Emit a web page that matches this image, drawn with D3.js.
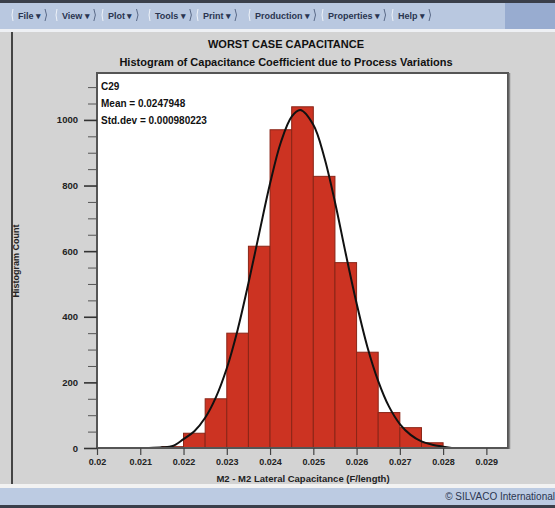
<!DOCTYPE html>
<html><head><meta charset="utf-8">
<script src="https://cdn.jsdelivr.net/npm/d3@7"></script>
<style>
html,body{margin:0;padding:0;background:#d3d3d3;}
svg{display:block;font-family:"Liberation Sans",Arial,sans-serif;}
</style></head>
<body>
<svg id="chart" width="555" height="508"></svg>
<script>
// ---- data ----
const menuItems = ["File", "View", "Plot", "Tools", "Print", "Production", "Properties", "Help"];
const binStarts = [0.0215, 0.022, 0.0225, 0.023, 0.0235, 0.024, 0.0245, 0.025, 0.0255, 0.026, 0.0265, 0.027, 0.0275];
const binCounts = [4, 45, 150, 350, 615, 970, 1040, 828, 565, 292, 108, 62, 16];
const binWidth = 0.0005;
const curveX = [0.0212, 0.0215, 0.02175, 0.022, 0.02225, 0.0225, 0.02275, 0.023, 0.02325, 0.0235, 0.02375, 0.024, 0.02425, 0.0245, 0.0247, 0.025, 0.02525, 0.0255, 0.02575, 0.026, 0.02625, 0.0265, 0.02675, 0.027, 0.02725, 0.0275, 0.02775, 0.028, 0.0282];
const curveY = [0, 2, 6, 27, 51, 92, 155, 243, 360, 502, 655, 806, 932, 1010, 1030, 985, 888, 750, 592, 441, 308, 204, 126, 73, 40, 20, 10, 4, 0];
const xTicks = [0.02, 0.021, 0.022, 0.023, 0.024, 0.025, 0.026, 0.027, 0.028, 0.029];
const xTickLabels = ["0.02", "0.021", "0.022", "0.023", "0.024", "0.025", "0.026", "0.027", "0.028", "0.029"];
const yTicks = [0, 200, 400, 600, 800, 1000];
const yMinorTicks = [50, 100, 150, 250, 300, 350, 450, 500, 550, 650, 700, 750, 850, 900, 950, 1050, 1100];
const statsLines = ["C29", "Mean = 0.0247948", "Std.dev = 0.000980223"];
const title = "WORST CASE CAPACITANCE";
const subtitle = "Histogram of Capacitance Coefficient due to Process Variations";
const xTitle = "M2 - M2 Lateral Capacitance (F/length)";
const yTitle = "Histogram Count";
const footer = "© SILVACO International";

const svg = d3.select("#chart");

// ---- window chrome ----
svg.append("rect").attr("x",0).attr("y",0).attr("width",555).attr("height",508).attr("fill","#d3d3d3");
svg.append("rect").attr("x",0).attr("y",0).attr("width",555).attr("height",30).attr("fill","#b9c8e0");
svg.append("rect").attr("x",0).attr("y",0).attr("width",555).attr("height",3).attr("fill","#3a3f4a");
svg.append("rect").attr("x",505).attr("y",3).attr("width",50).attr("height",27).attr("fill","#98acd0");
svg.append("rect").attr("x",0).attr("y",29).attr("width",555).attr("height",3).attr("fill","#eef0f4");
const menuX = [18, 62, 108, 155, 203, 255, 328, 398];
const mg = svg.append("g").attr("font-size",9).attr("font-weight","bold").attr("fill","#2a3550");
menuItems.forEach((m,i)=>{
  const t = mg.append("text").attr("x",menuX[i]).attr("y",18.5).text(m + " ▾");
  const w = t.node().getComputedTextLength();
  mg.append("path").attr("d",`M${menuX[i]+w+4},9 q3,6 0,12`).attr("fill","none").attr("stroke","#5a6a88").attr("stroke-width",1);
  mg.append("path").attr("d",`M${menuX[i]-5},9 q-2,6 0,12`).attr("fill","none").attr("stroke","#eef2f8").attr("stroke-width",1);
});
svg.append("rect").attr("x",11).attr("y",32).attr("width",2).attr("height",452).attr("fill","#444");
svg.append("rect").attr("x",0).attr("y",484).attr("width",555).attr("height",4).attr("fill","#f2f2f2");
svg.append("rect").attr("x",0).attr("y",488).attr("width",555).attr("height",17).attr("fill","#bccbe2");
svg.append("rect").attr("x",0).attr("y",505).attr("width",555).attr("height",3).attr("fill","#3a3f4a");
svg.append("text").attr("x",555).attr("y",500).attr("text-anchor","end").attr("font-size",10).attr("fill","#2a3550").text(footer);

// ---- titles ----
svg.append("text").attr("x",286).attr("y",48).attr("text-anchor","middle").attr("font-size",11).attr("font-weight","bold").attr("fill","#111").text(title);
svg.append("text").attr("x",286).attr("y",66).attr("text-anchor","middle").attr("font-size",11).attr("font-weight","bold").attr("fill","#111").text(subtitle);

// ---- plot ----
const L = 97, R = 508, T = 73, B = 448;
const x = d3.scaleLinear().domain([0.02, 0.0295]).range([L, R]);
const y = d3.scaleLinear().domain([0, 1143]).range([B, T]);

svg.append("rect").attr("x",L).attr("y",T).attr("width",R-L).attr("height",B-T).attr("fill","#fff");

svg.append("g").selectAll("rect").data(binStarts).join("rect")
  .attr("x", d=>x(d))
  .attr("width", d=>x(d+binWidth)-x(d))
  .attr("y", (d,i)=>y(binCounts[i]))
  .attr("height", (d,i)=>y(0)-y(binCounts[i]))
  .attr("fill","#cc3322")
  .attr("stroke","#8a2517")
  .attr("stroke-width",1);

const pts = curveX.map((v,i)=>[v, curveY[i]]);
svg.append("path").datum(pts)
  .attr("d", d3.line().x(d=>x(d[0])).y(d=>y(d[1])).curve(d3.curveCatmullRom))
  .attr("fill","none").attr("stroke","#111").attr("stroke-width",2);

svg.append("rect").attr("x",L).attr("y",T).attr("width",R-L).attr("height",B-T)
  .attr("fill","none").attr("stroke","#555").attr("stroke-width",2);
svg.append("line").attr("x1",R+1.5).attr("x2",R+1.5).attr("y1",T).attr("y2",B+1).attr("stroke","#888").attr("stroke-width",1.5);

const yAxis = svg.append("g").attr("transform",`translate(${L},0)`)
  .call(d3.axisLeft(y).tickValues(yTicks).tickSize(13).tickPadding(6).tickFormat(d=>String(d)));
yAxis.select(".domain").remove();
yAxis.selectAll("line").attr("stroke","#333").attr("stroke-width",1.6);
yAxis.selectAll("text").attr("font-size",9.5).attr("font-weight","bold").attr("fill","#222").attr("font-family","Liberation Sans, Arial, sans-serif");
const yMinor = svg.append("g").attr("transform",`translate(${L},0)`)
  .call(d3.axisLeft(y).tickValues(yMinorTicks).tickSize(9).tickFormat(""));
yMinor.select(".domain").remove();
yMinor.selectAll("line").attr("stroke","#555").attr("stroke-width",1);

const xAxis = svg.append("g").attr("transform",`translate(0,${B})`)
  .call(d3.axisBottom(x).tickValues(xTicks).tickSize(7).tickPadding(4).tickFormat((d,i)=>xTickLabels[i]));
xAxis.select(".domain").remove();
xAxis.selectAll("line").attr("stroke","#444").attr("stroke-width",1.2);
xAxis.selectAll("text").attr("font-size",9).attr("font-weight","bold").attr("fill","#222").attr("font-family","Liberation Sans, Arial, sans-serif");

svg.append("text").attr("x",303).attr("y",482).attr("text-anchor","middle").attr("font-size",9.5).attr("font-weight","bold").attr("fill","#222").text(xTitle);
svg.append("text").attr("transform","translate(19,261) rotate(-90)").attr("text-anchor","middle").attr("font-size",9).attr("font-weight","bold").attr("fill","#222").text(yTitle);

statsLines.forEach((s,i)=>{
  svg.append("text").attr("x",101).attr("y",90 + i*17).attr("font-size",10).attr("font-weight","bold").attr("fill","#111").text(s);
});
</script>
</body></html>
